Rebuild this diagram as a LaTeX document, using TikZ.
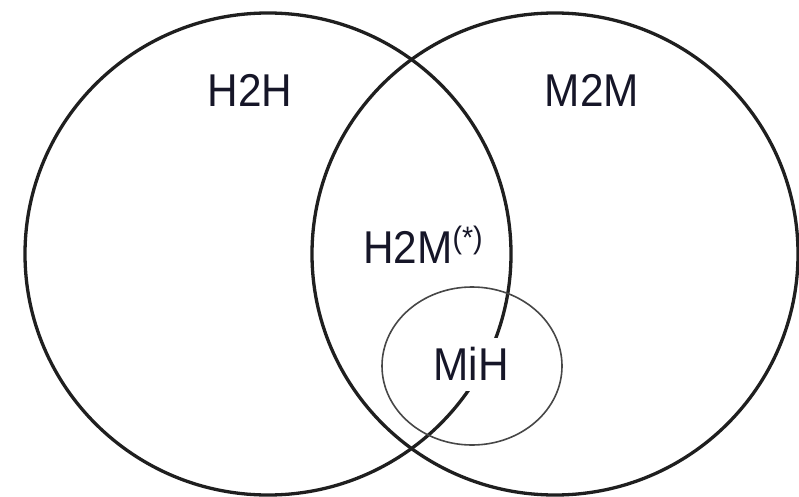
\documentclass[tikz,border=0pt]{standalone}
\usepackage{fontspec}
\setmainfont{Liberation Sans}
\newfontfamily\lblfont[FakeStretch=0.92]{Liberation Sans}
\definecolor{ink}{RGB}{22,22,40}
\begin{document}
\begin{tikzpicture}[x=1pt,y=-1pt,
  setline/.style={line width=3.3pt, draw=black!88},
  subline/.style={line width=1.6pt, draw=black!72},
  lbl/.style={text=ink, font=\lblfont\fontsize{46}{52}\selectfont, inner sep=0pt}]
\useasboundingbox (0,0) rectangle (799,497);
% the two large sets
\draw[setline] (268,254) ellipse [x radius=243pt, y radius=241pt];
\draw[setline] (555,254) ellipse [x radius=243pt, y radius=241pt];
% the small subset
\draw[subline] (472,366) ellipse [x radius=90pt, y radius=79pt];
% labels
\node[lbl, anchor=base] (h2h) at (250,107) {H2H};
\node[lbl, anchor=base] (m2m) at (592,107) {M2M};
\node[lbl, anchor=base west] (h2m) at (363,263)
  {H2M\raisebox{15pt}{\fontsize{31}{33}\selectfont(*)}};
\node[lbl, fill=white, minimum width=90pt, minimum height=53pt] (mih) at (471,364) {MiH};
\end{tikzpicture}
\end{document}
